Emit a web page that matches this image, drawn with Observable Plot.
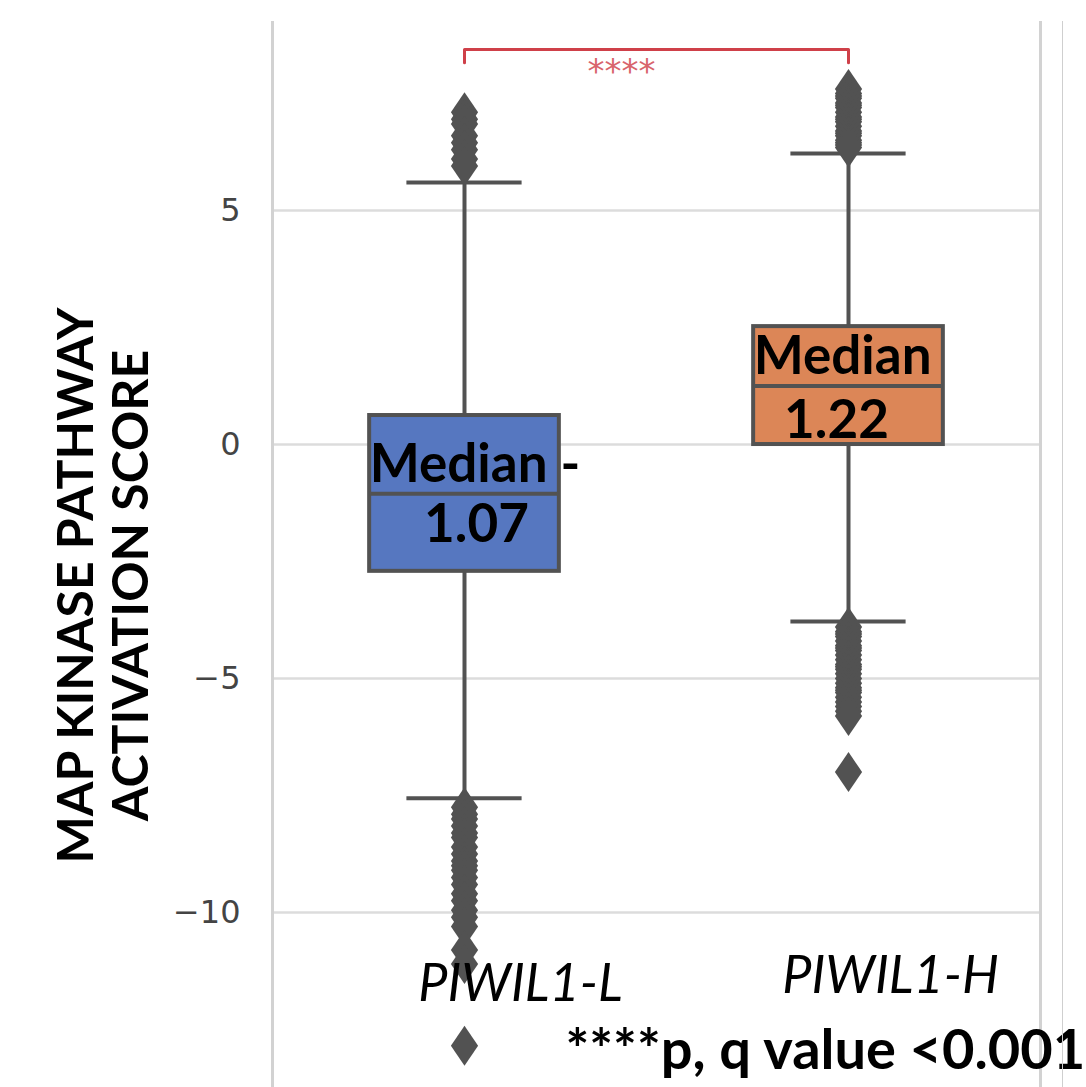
<!DOCTYPE html>
<html><head><meta charset="utf-8">
<script src="https://cdn.jsdelivr.net/npm/d3@7"></script>
<script src="https://cdn.jsdelivr.net/npm/@observablehq/plot@0.6"></script>
<style>
body{margin:0;background:#fff;}
#wrap{position:relative;width:1086px;height:1087px;overflow:hidden;}
#edge{position:absolute;left:1062px;top:21px;width:1px;height:1066px;background:#cfcfcf;}
</style>
</head><body><div id="wrap"><div id="edge"></div></div>
<script>
// ---- data ----
const groups = ["PIWIL1-L", "PIWIL1-H"];
const q1 = [-2.71, 0.0];
const medians = [-1.05, 1.25];
const q3 = [0.62, 2.52];
const whiskerLow = [-7.56, -3.78];
const whiskerHigh = [5.6, 6.22];
const boxColors = ["#5677c0", "#dc8657"];
const medianTitles = ["Median -", "Median"];
const medianValues = ["1.07", "1.22"];
const outliersL = [7.1, 6.95, 6.85, 6.6, 6.45, 6.3, 6.1, 5.95,
  -7.75, -7.9, -8.0, -8.15, -8.3, -8.4, -8.6, -8.75, -8.9, -9.0, -9.1, -9.25,
  -9.4, -9.6, -9.75, -9.95, -10.1, -10.3, -10.8, -11.1, -12.85];
const outliersH = [7.6, 7.5, 7.45, 7.4, 7.3, 7.25, 7.2, 7.1, 7.0, 6.95, 6.9, 6.8,
  6.7, 6.65, 6.6, 6.5, 6.45, 6.4, 6.35,
  -3.9, -4.0, -4.05, -4.1, -4.2, -4.3, -4.35, -4.4, -4.5, -4.6, -4.7, -4.75,
  -4.8, -4.9, -5.0, -5.1, -5.2, -5.25, -5.3, -5.4, -5.5, -5.6, -5.7, -5.8, -7.0];
const yTicks = [5, 0, -5, -10];
const bracketY = 8.44;
const bracketTickY = 8.16;
const sigLabel = "****";
const yLabel = "MAP KINASE PATHWAY\nACTIVATION SCORE";
const footnote = "****p, q value <0.001";

// ---- tables ----
const stats = groups.map((g, i) => ({
  i, g, q1: q1[i], med: medians[i], q3: q3[i], lo: whiskerLow[i], hi: whiskerHigh[i],
  color: boxColors[i], title: medianTitles[i], value: medianValues[i]
}));
const outliers = [
  ...outliersL.map(v => ({i: 0, v})),
  ...outliersH.map(v => ({i: 1, v}))
];
const bracket = [
  {x: 0, y: bracketTickY}, {x: 0, y: bracketY}, {x: 1, y: bracketY}, {x: 1, y: bracketTickY}
];

const halfBox = 0.247, halfCap = 0.15;
const thinDiamond = {
  draw(ctx, size) {
    const r = Math.sqrt(size / Math.PI);
    const w = r * 0.68;
    ctx.moveTo(0, -r); ctx.lineTo(w, 0); ctx.lineTo(0, r); ctx.lineTo(-w, 0); ctx.closePath();
  }
};
const gray = "#525252";

const chart = Plot.plot({
  width: 1086, height: 1087,
  marginLeft: 272, marginRight: 46, marginTop: 21, marginBottom: 0,
  x: {type: "linear", domain: [-0.5, 1.5], axis: null},
  y: {domain: [-13.74, 9.04], ticks: yTicks, tickSize: 0, tickPadding: 32,
      tickFormat: d => d < 0 ? "\u2212" + Math.abs(d) : String(d), label: null},
  style: {fontFamily: "DejaVu Sans", fontSize: "32px", color: "#444", background: "#fff"},
  marks: [
    Plot.ruleY(yTicks, {stroke: "#dcdcdc", strokeWidth: 2.5}),
    Plot.ruleX([-0.5, 1.5], {stroke: "#d2d2d2", strokeWidth: 3}),
    // whiskers
    Plot.ruleX(stats, {x: "i", y1: "lo", y2: "hi", stroke: gray, strokeWidth: 4}),
    Plot.ruleY(stats, {y: "lo", x1: d => d.i - halfCap, x2: d => d.i + halfCap, stroke: gray, strokeWidth: 4}),
    Plot.ruleY(stats, {y: "hi", x1: d => d.i - halfCap, x2: d => d.i + halfCap, stroke: gray, strokeWidth: 4}),
    // outliers
    Plot.dot(outliers, {x: "i", y: "v", symbol: thinDiamond, r: 20, fill: gray, stroke: null}),
    // boxes
    Plot.rect(stats, {x1: d => d.i - halfBox, x2: d => d.i + halfBox, y1: "q1", y2: "q3",
      fill: "color", stroke: gray, strokeWidth: 4}),
    Plot.ruleY(stats, {y: "med", x1: d => d.i - halfBox, x2: d => d.i + halfBox, stroke: gray, strokeWidth: 4}),
    // median labels
    Plot.text(stats, {x: d => d.i - halfBox, y: "med", text: "title", textAnchor: "start", lineAnchor: "bottom",
      dy: -12, fontFamily: "Lato", fontWeight: 700, fontSize: 53, fill: "#000"}),
    Plot.text(stats.filter(d => d.i === 0), {x: "i", y: "med", text: "value", lineAnchor: "bottom",
      dx: 12, dy: 48, fontFamily: "Lato", fontWeight: 700, fontSize: 53, fill: "#000"}),
    Plot.text(stats.filter(d => d.i === 1), {x: "i", y: "med", text: "value", lineAnchor: "bottom",
      dx: -12, dy: 52, fontFamily: "Lato", fontWeight: 700, fontSize: 53, fill: "#000"}),
    // category labels
    Plot.text(stats.filter(d => d.i === 0), {x: "i", y: -11.6, text: "g", dx: 56, dy: 14, lineAnchor: "bottom",
      fontFamily: "Lato", fontStyle: "italic", fontSize: 52, fill: "#000"}),
    Plot.text(stats.filter(d => d.i === 1), {x: "i", y: -11.6, text: "g", dx: 42, dy: 6, lineAnchor: "bottom",
      fontFamily: "Lato", fontStyle: "italic", fontSize: 52, fill: "#000"}),
    // significance bracket
    Plot.line(bracket, {x: "x", y: "y", stroke: "#cf4049", strokeWidth: 3}),
    Plot.text([sigLabel], {x: 0.5, y: bracketY, text: d => d, dx: -35, lineAnchor: "top", dy: 9,
      fontFamily: "DejaVu Sans", fontSize: 34, fill: "#d8646c"}),
    // y label
    Plot.text([yLabel], {frameAnchor: "left", text: d => d, rotate: -90, dx: -170, dy: 31,
      textAnchor: "middle", lineAnchor: "middle",
      lineHeight: 1.1, fontFamily: "Lato", fontWeight: 700, fontSize: 50, fill: "#000"}),
    // footnote
    Plot.text([footnote], {frameAnchor: "bottom-left", text: d => d, textAnchor: "start", lineAnchor: "bottom",
      dx: 293, dy: -19, fontFamily: "Lato", fontWeight: 700, fontSize: 56, fill: "#000"})
  ]
});
document.getElementById("wrap").prepend(chart);
</script>
</body></html>
